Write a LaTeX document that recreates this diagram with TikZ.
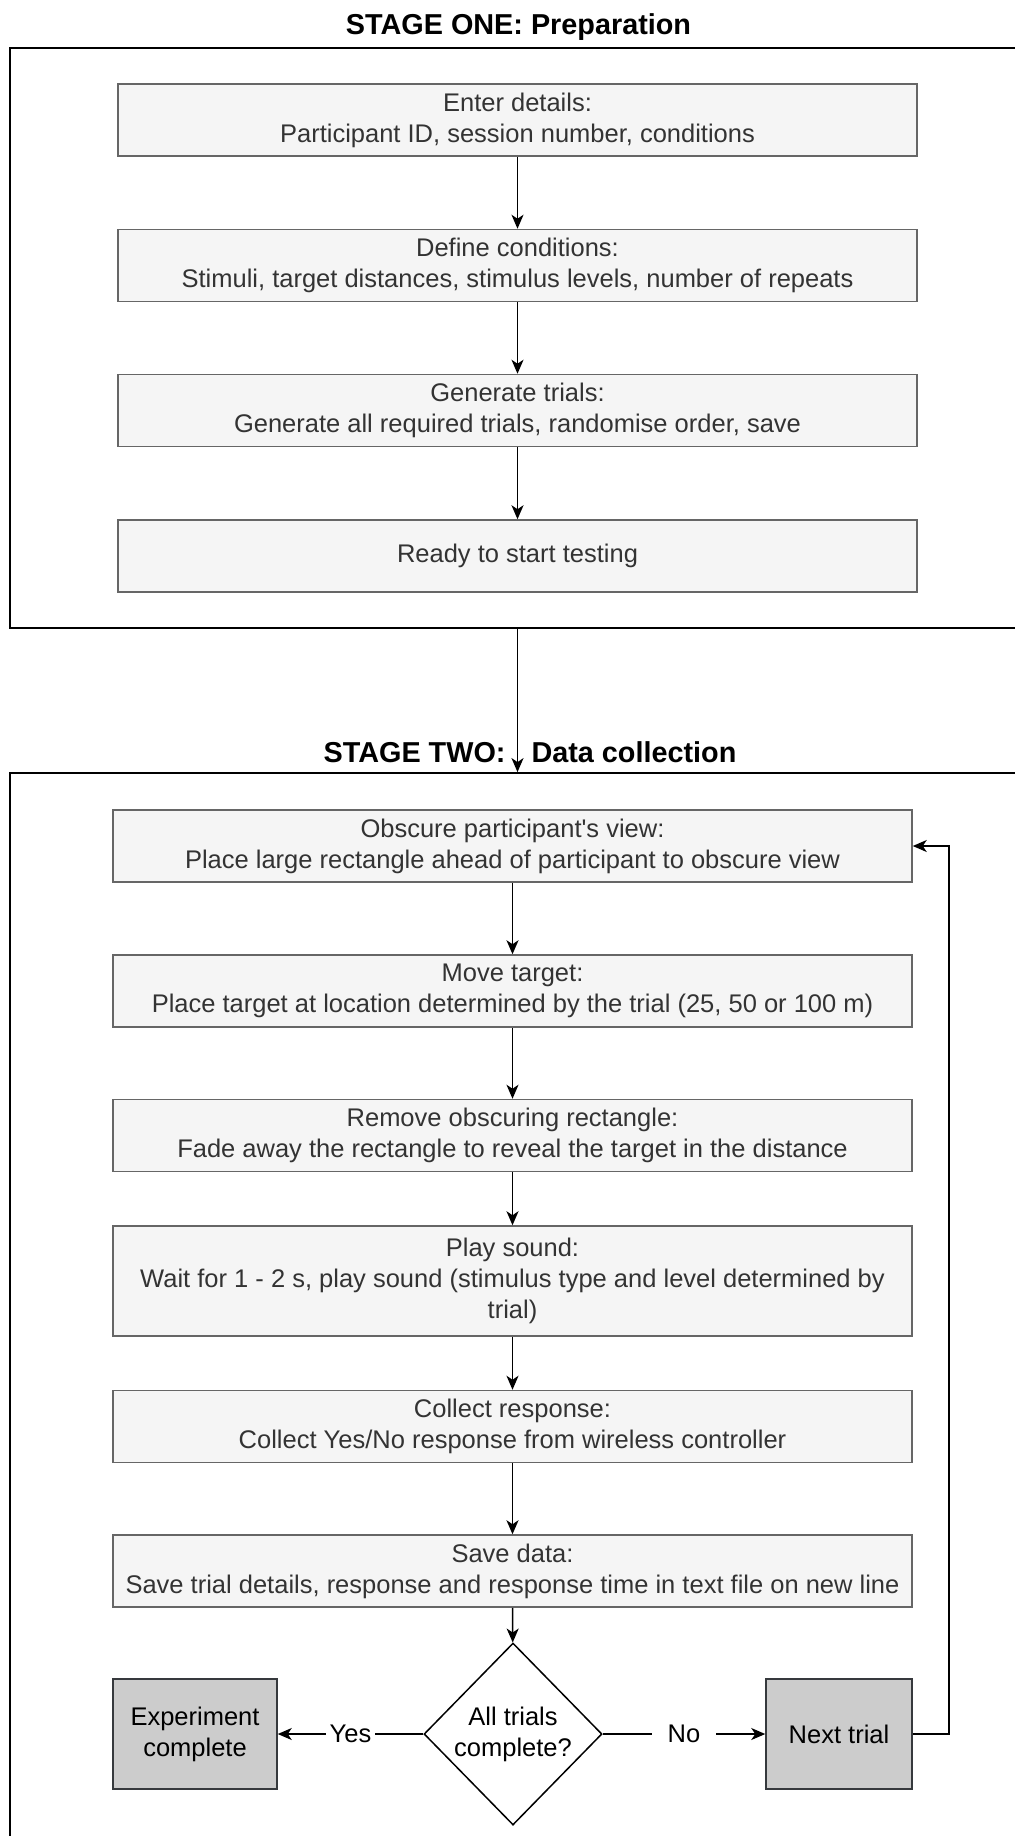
\documentclass[tikz,border=0pt]{standalone}
\usepackage{fontspec}
\setmainfont{Liberation Sans}
\usetikzlibrary{shapes.geometric,arrows.meta}
\definecolor{boxfill}{HTML}{F5F5F5}
\definecolor{boxline}{HTML}{666666}
\definecolor{boxtext}{HTML}{333333}
\definecolor{endfill}{HTML}{CCCCCC}
\definecolor{endline}{HTML}{36393D}

\begin{document}
\begin{tikzpicture}[x=0.5pt,y=0.5pt,
    every node/.style={font=\fontsize{12.75}{15.5}\selectfont},
    stagetitle/.style={font=\fontsize{14.4}{17}\selectfont\bfseries},
    frame/.style={draw=black,line width=0.9pt,inner sep=0pt},
    stepbox/.style={draw=boxline,fill=boxfill,text=boxtext,line width=0.75pt,
      align=center,minimum width=399.5pt,minimum height=36pt,inner sep=0pt},
    endbox/.style={draw=endline,fill=endfill,line width=0.75pt,align=center,
      minimum height=55pt,inner sep=0pt},
    decision/.style={diamond,draw=black,fill=white,line width=0.75pt,align=center,
      minimum width=89pt,minimum height=91pt,inner sep=0pt},
    flow/.style={line width=0.8pt,-{Stealth[length=7pt,width=6pt,inset=2pt]}},
    lbl/.style={fill=white,inner sep=2pt}]
  \useasboundingbox (0,0) rectangle (1014,-1836);
  % stage frames
  \node[frame,minimum width=507.5pt,minimum height=290pt]   (stageone) at (517.5,-338) {};
  \node[frame,minimum width=504pt,minimum height=538.5pt]   (stagetwo) at (514,-1311.5) {};
  \node[stagetitle] (titleone) at (518.5,-27) {STAGE ONE: Preparation};
  \node[stagetitle] (titletwo) at (530,-752) {STAGE TWO:\hspace{13pt}Data collection};
  % stage one
  \node[stepbox] (enter)    at (517.5,-120)   {Enter details:\\Participant ID, session number, conditions};
  \node[stepbox] (define)   at (517.5,-265.5) {Define conditions:\\Stimuli, target distances, stimulus levels, number of repeats};
  \node[stepbox] (generate) at (517.5,-410.5) {Generate trials:\\Generate all required trials, randomise order, save};
  \node[stepbox] (ready)    at (517.5,-556)   {Ready to start testing};
  \draw[flow] (enter) -- (define);
  \draw[flow] (define) -- (generate);
  \draw[flow] (generate) -- (ready);
  \draw[flow] (stageone.south) -- (stageone.south |- stagetwo.north);
  % stage two
  \node[stepbox] (obscure) at (512.5,-846)    {Obscure participant\textquotesingle s view:\\Place large rectangle ahead of participant to obscure view};
  \node[stepbox] (move)    at (512.5,-991)    {Move target:\\Place target at location determined by the trial (25, 50 or 100 m)};
  \node[stepbox] (remove)  at (512.5,-1135.5) {Remove obscuring rectangle:\\Fade away the rectangle to reveal the target in the distance};
  \node[stepbox,minimum height=55pt] (play) at (512.5,-1281)
      {Play sound:\\Wait for 1 - 2 s, play sound (stimulus type and level determined by\\trial)};
  \node[stepbox] (collect) at (512.5,-1426.5) {Collect response:\\Collect Yes/No response from wireless controller};
  \node[stepbox] (save)    at (512.5,-1571)   {Save data:\\Save trial details, response and response time in text file on new line};
  \node[decision] (check)  at (513,-1734)     {All trials\\complete?};
  \node[endbox,minimum width=82pt] (expdone) at (195,-1734) {Experiment\\complete};
  \node[endbox,minimum width=73pt] (next)    at (839,-1734) {Next trial};
  \draw[flow] (obscure) -- (move);
  \draw[flow] (move) -- (remove);
  \draw[flow] (remove) -- (play);
  \draw[flow] (play) -- (collect);
  \draw[flow] (collect) -- (save);
  \draw[flow] (save) -- (check);
  \draw[flow] (check) -- node[lbl] {Yes} (expdone);
  \draw[flow] (check) -- node[lbl,inner xsep=8pt] {No} (next);
  \draw[flow] (next.east) -- ++(36,0) |- (obscure.east);
\end{tikzpicture}
\end{document}
